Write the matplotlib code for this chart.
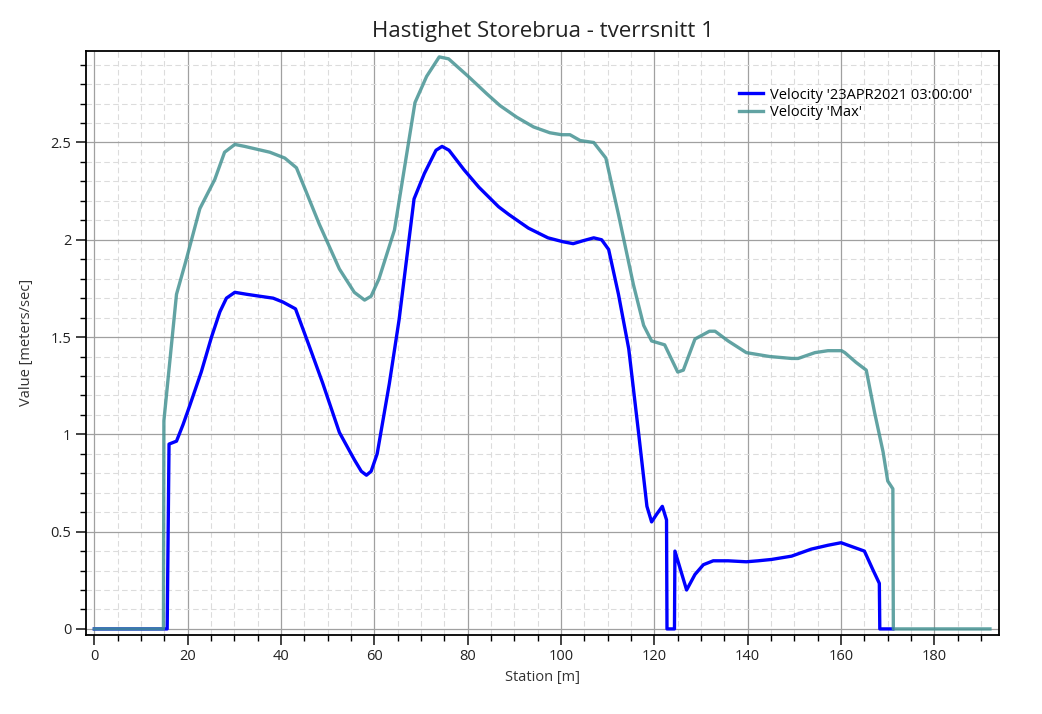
"""Hastighet Storebrua - tverrsnitt 1"""

import numpy as np
import matplotlib.pyplot as plt
from matplotlib.ticker import MultipleLocator

plt.rcParams['font.family'] = ['Open Sans', 'DejaVu Sans']

# Velocity '23APR2021 03:00:00'
st_now = [0, 15.6, 16.0, 17.6, 19.0, 20.4, 22.9, 25.1, 26.9, 28.3, 30.1, 32.6, 35.4,
          38.3, 40.4, 43.1, 46.1, 48.9, 52.5, 55.7, 57.2, 58.3, 59.3, 60.6, 63.2,
          65.3, 68.5, 70.7, 73.2, 74.5, 76.0, 79.2, 82.4, 86.6, 88.8, 93.0, 97.2,
          100.4, 102.6, 104.7, 107.0, 108.7, 110.2, 112.3, 114.5, 116.6, 118.4,
          119.4, 120.5, 121.7, 122.6, 122.7, 124.3, 124.4, 126.9, 128.7, 130.5,
          132.6, 135.8, 139.7, 142.2, 145.1, 149.4, 153.6, 157.2, 160.0, 161.5,
          165.0, 166.8, 168.2, 168.3, 171.1]
v_now = [0, 0, 0.95, 0.965, 1.05, 1.145, 1.32, 1.50, 1.63, 1.70, 1.73, 1.72, 1.71,
         1.70, 1.68, 1.645, 1.45, 1.265, 1.01, 0.87, 0.81, 0.79, 0.81, 0.90, 1.26,
         1.59, 2.21, 2.34, 2.46, 2.48, 2.46, 2.36, 2.27, 2.17, 2.13, 2.06, 2.01,
         1.99, 1.98, 1.995, 2.01, 2.0, 1.95, 1.72, 1.44, 1.01, 0.63,
         0.55, 0.59, 0.63, 0.56, 0, 0, 0.40, 0.20, 0.28, 0.33,
         0.35, 0.35, 0.345, 0.35, 0.357, 0.374, 0.41, 0.43, 0.443, 0.43,
         0.40, 0.305, 0.234, 0, 0]

# Velocity 'Max'
st_max = [0, 14.8, 14.9, 17.6, 19.6, 22.6, 25.8, 27.9, 30.1, 32.2, 37.6, 40.8, 43.3,
          48.2, 52.5, 55.7, 57.9, 59.3, 61.0, 64.3, 68.7, 71.2, 73.9, 75.9, 80.1,
          84.1, 86.9, 90.5, 94.1, 97.6, 100.1, 101.9, 104.1, 107.0, 109.6, 112.3, 115.5,
          117.7, 119.4, 122.2, 125.0, 126.2, 128.7, 131.8, 133.0, 135.8, 139.7,
          142.2, 144.7, 149.4, 150.8, 154.4, 157.2, 160.1, 160.8, 163.2, 165.4,
          167.2, 169.0, 170.0, 171.1, 171.2, 191.9]
v_max = [0, 0, 1.07, 1.72, 1.89, 2.16, 2.31, 2.45, 2.49, 2.48, 2.45, 2.42, 2.37,
         2.08, 1.85, 1.73, 1.69, 1.71, 1.80, 2.05, 2.705, 2.84, 2.94, 2.93, 2.84,
         2.75, 2.69, 2.63, 2.58, 2.55, 2.54, 2.54, 2.51, 2.50, 2.42, 2.13, 1.77,
         1.56, 1.48, 1.46, 1.32, 1.33, 1.49, 1.53, 1.53, 1.48, 1.42,
         1.41, 1.40, 1.39, 1.39, 1.42, 1.43, 1.43, 1.42, 1.37, 1.33,
         1.11, 0.91, 0.76, 0.72, 0, 0]

fig = plt.figure(figsize=(10.42, 7.14), dpi=100)
ax = fig.add_axes([0.0825, 0.111, 0.8765, 0.8175])

ax.plot(st_now, v_now, color='#0000ff', lw=2.4, label="Velocity '23APR2021 03:00:00'",
        solid_joinstyle='round')
ax.plot(st_max, v_max, color='#469393', lw=2.4, alpha=0.85, label="Velocity 'Max'",
        solid_joinstyle='round')

ax.set_xlim(-1.8, 193.9)
ax.set_ylim(-0.03, 2.97)
ax.xaxis.set_major_locator(MultipleLocator(20))
ax.xaxis.set_minor_locator(MultipleLocator(5))
ax.yaxis.set_major_locator(MultipleLocator(0.5))
ax.yaxis.set_minor_locator(MultipleLocator(0.1))
ax.yaxis.set_major_formatter(plt.FuncFormatter(lambda v, p: f'{v:g}'))

ax.grid(which='major', color='#a0a0a0', lw=0.9)
ax.grid(which='minor', color='#dcdcdc', lw=0.8, ls=(0, (5, 3)))
ax.set_axisbelow(True)

ax.tick_params(which='major', length=7, width=1.2, labelsize=10.5, colors='#222222')
ax.tick_params(which='minor', length=4, width=1.0)
for s in ax.spines.values():
    s.set_linewidth(1.3)
    s.set_color('black')

ax.set_xlabel('Station [m]', fontsize=10.5, color='#333333', labelpad=4)
ax.set_ylabel('Value [meters/sec]', fontsize=10.5, color='#333333', labelpad=12)
ax.set_title('Hastighet Storebrua - tverrsnitt 1', fontsize=16, color='#222222', pad=10)

ax.legend(loc='upper right', bbox_to_anchor=(0.985, 0.96), frameon=False,
          fontsize=10.5, handlelength=1.6, labelspacing=0.2, handletextpad=0.5)

plt.savefig('out.png', dpi=100)
